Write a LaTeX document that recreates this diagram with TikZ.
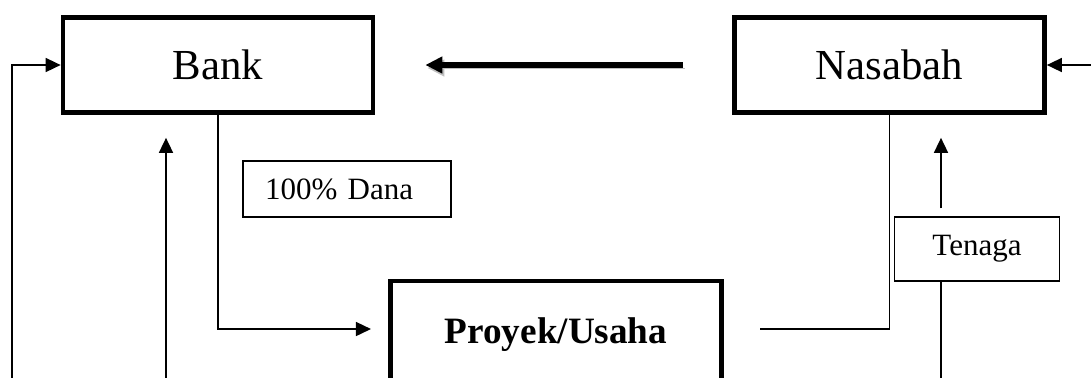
\documentclass[tikz,border=0pt]{standalone}
\usepackage{fontspec}
\setmainfont{Liberation Serif}
\usetikzlibrary{arrows.meta,positioning}

\tikzset{
  mainbox/.style={draw, line width=2.35pt, fill=white, minimum width=155pt, minimum height=47.5pt, inner sep=0pt},
  notebox/.style={draw, line width=0.6pt, fill=white, inner sep=0pt},
  thinline/.style={line width=0.8pt},
  thinarrow/.style={line width=0.8pt, -{Triangle[length=7.5pt,width=7pt]}},
  fatarrow/.style={line width=2.75pt, -{Triangle[length=8.5pt,width=8pt]},
    preaction={draw=black!25, transform canvas={shift={(1pt,-1.5pt)}}}}
}

\begin{document}
\begin{tikzpicture}[x=0.5pt, y=-0.5pt]
      % fix the page to the picture size
      \useasboundingbox (0,0) rectangle (1091,377);

      % main boxes
      \node[mainbox, font=\fontsize{21.4}{25}\selectfont] (bank) at (218,65) {Bank};
      \node[mainbox, font=\fontsize{21.4}{25}\selectfont] (nasabah) at (889.5,65) {Nasabah};
      \node[mainbox, minimum width=165.7pt, minimum height=54pt, font=\fontsize{18.6}{22}\selectfont\bfseries] (proyek) at (556,335) {Proyek/Usaha};

      % label boxes
      \node[notebox, minimum width=104pt, minimum height=28pt, text width=82pt, align=left, inner xsep=11pt,
            font=\fontsize{15.5}{18}\selectfont] (dana) at (347,189) {100\% Dana};
      \node[notebox, minimum width=82.5pt, minimum height=32pt, font=\fontsize{15.5}{18}\selectfont] (tenaga) at (977,249) {Tenaga};

      % free ends at the lower and right edges
      \coordinate (leftin) at (12,382);
      \coordinate (midin) at (166,382);
      \coordinate (tenin) at (941,382);
      \coordinate (rightin) at (1095,65);

      % connector heights at the project box
      \coordinate (pin) at ([yshift=3pt]proyek.west);
      \coordinate (pout) at ([yshift=3pt]proyek.east);

      % Add the loop from the left into Bank
      \draw[thinarrow] (leftin) |- (bank.west);
      \draw[thinarrow, shorten >=11.5pt] (midin) -- (midin |- bank.south);

      % Bank funds the project
      \draw[thinarrow, shorten >=8.5pt] (bank.south) |- (pin);

      % Nasabah back to Bank
      \draw[fatarrow, shorten <=24.5pt, shorten >=25pt] (nasabah.west) -- (bank.east);

      % project to Nasabah
      \draw[thinline, shorten <=18pt] (pout) -| (nasabah.south);

      % Tenaga line with arrow to Nasabah
      \draw[thinline] (tenin) -- (tenaga.south -| tenin);
      \draw[thinarrow, shorten <=4pt, shorten >=11.5pt] (tenaga.north -| tenin) -- (nasabah.south -| tenin);

      % Optional: arrow from the right edge
      \draw[thinarrow] (rightin) -- (nasabah.east);
    \end{tikzpicture}
\end{document}
